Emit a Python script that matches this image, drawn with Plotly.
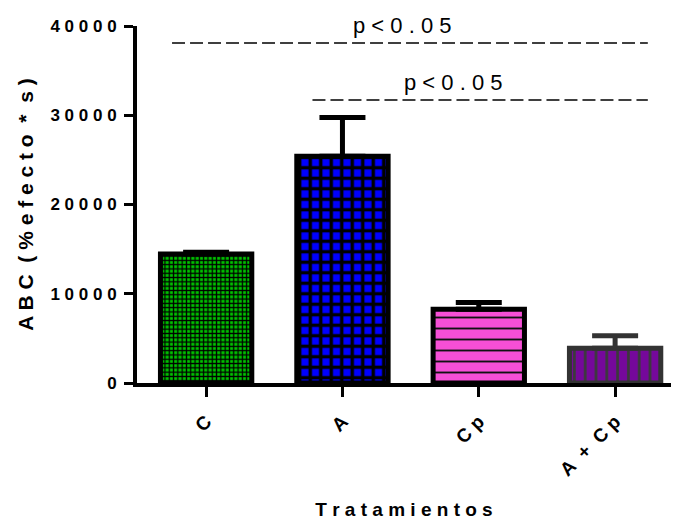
import plotly.graph_objects as go

# ---- data ----
categories = ["C", "A", "Cp", "A + Cp"]
tick_text = ["C", "A", "C&nbsp;p", "A&nbsp; +&nbsp; C&nbsp;p"]
abc_mean = [14450, 25420, 8270, 3900]
abc_sem = [200, 4330, 750, 1390]

y_tick_vals = [0, 10000, 20000, 30000, 40000]
y_tick_text = ["0", "1 0 0 0 0", "2 0 0 0 0", "3 0 0 0 0", "4 0 0 0 0"]

# significance brackets (dashed lines)
sig_y = [38100, 31700]
sig_x0 = [-0.25, 0.78]
sig_x1 = [3.24, 3.24]
sig_label_x = [1.44, 1.81]
sig_label = ["p < 0 . 0 5", "p < 0 . 0 5"]

# ---- styles ----
fill_bg = ["#00C000", "#0000FF", "#F64FD6", "#75089B"]
fill_fg = ["#000000", "#000000", "#111111", "#3A3A3A"]
pat_shape = ["+", "+", "-", "|"]
pat_size = [4.3, 10.5, 11, 10.8]
pat_sol = [0.5, 0.55, 0.17, 0.25]
edge_col = ["#000000", "#000000", "#000000", "#333333"]

FONT = "Liberation Sans, Arial, sans-serif"

fig = go.Figure()
for i, cat in enumerate(categories):
    fig.add_trace(go.Bar(
        x=[i], y=[abc_mean[i]], width=0.67,
        marker=dict(
            color=fill_bg[i],
            line=dict(color=edge_col[i], width=5),
            pattern=dict(shape=pat_shape[i], size=pat_size[i], solidity=pat_sol[i],
                         fgcolor=fill_fg[i], bgcolor=fill_bg[i], fillmode="replace"),
        ),
        error_y=dict(type="data", array=[abc_sem[i]], arrayminus=[0], symmetric=False,
                     color=edge_col[i], thickness=5, width=23),
        showlegend=False, hoverinfo="skip",
    ))

shapes = []
annotations = []
for k in range(len(sig_y)):
    shapes.append(dict(type="line", xref="x", yref="y", x0=sig_x0[k], x1=sig_x1[k],
                       y0=sig_y[k], y1=sig_y[k],
                       line=dict(color="#000000", width=1.5, dash="13px,5px")))
    annotations.append(dict(xref="x", yref="y", x=sig_label_x[k], y=sig_y[k],
                            text=sig_label[k], showarrow=False, yanchor="bottom",
                            yshift=3, font=dict(family=FONT, size=22, color="#000000")))

fig.update_layout(
    width=673, height=520,
    margin=dict(l=137, r=2, t=26, b=137, pad=0, autoexpand=False),
    paper_bgcolor="white", plot_bgcolor="white",
    bargap=0.33,
    shapes=shapes, annotations=annotations,
    font=dict(family=FONT, color="#000000"),
)
fig.update_xaxes(
    automargin=False,
    range=[-0.507, 3.41], tickmode="array", tickvals=list(range(len(categories))),
    ticktext=tick_text, tickangle=-45, ticks="outside", ticklen=10, tickwidth=3,
    tickcolor="#000000", showline=True, linecolor="#000000", linewidth=4,
    showgrid=False, zeroline=False, ticklabelstandoff=6,
    tickfont=dict(family=FONT, size=19, weight="bold", color="#000000"),
    title=dict(text="T r a t a m i e n t o s", standoff=38,
               font=dict(family=FONT, size=19, weight="bold", color="#000000")),
)
fig.update_yaxes(
    automargin=False,
    range=[0, 40000], tickmode="array", tickvals=y_tick_vals, ticktext=y_tick_text,
    ticks="outside", ticklen=9, tickwidth=3, tickcolor="#000000",
    showline=True, linecolor="#000000", linewidth=4, showgrid=False, zeroline=False,
    ticklabelstandoff=4,
    tickfont=dict(family=FONT, size=17, weight="bold", color="#000000"),
    title=dict(text="A B C&nbsp; ( % e f e c t o&nbsp; *&nbsp; s )", standoff=12,
               font=dict(family=FONT, size=21, weight="bold", color="#000000")),
)

fig.write_html("out.html")
